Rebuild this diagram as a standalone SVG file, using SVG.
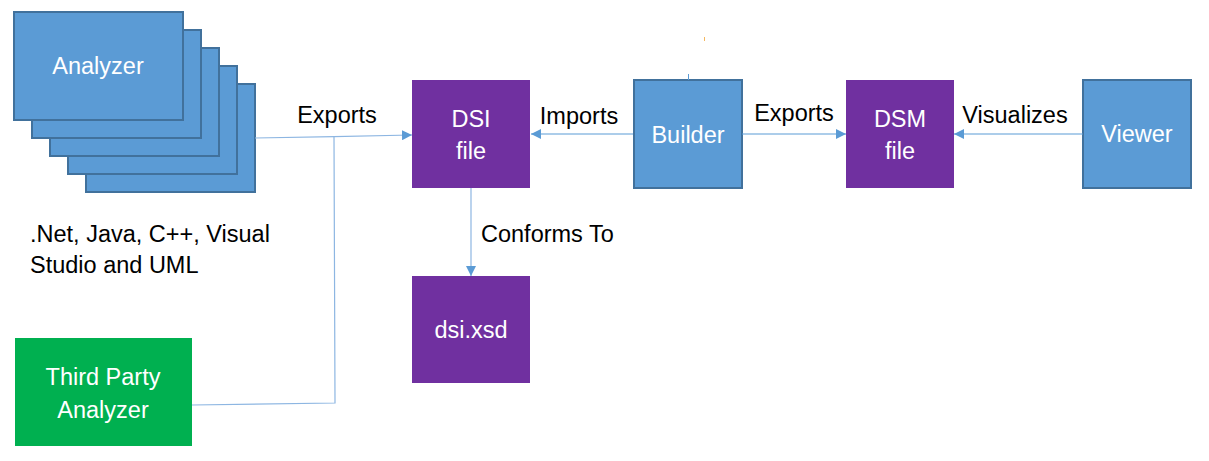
<svg xmlns="http://www.w3.org/2000/svg" width="1209" height="461" viewBox="0 0 1209 461">
<defs>
<style>
.blue{fill:#5B9BD5;stroke:#41719C;stroke-width:2}
.purple{fill:#7030A0}
.green{fill:#00B050}
.wt{font-family:"Liberation Sans",Arial,sans-serif;font-size:23.5px;fill:#FFFFFF;text-anchor:middle}
.bt{font-family:"Liberation Sans",Arial,sans-serif;font-size:23.5px;fill:#000000}
.conn{fill:none;stroke:#5B9BD5;stroke-width:1.2}
.light{fill:none;stroke:#8DB6E2;stroke-width:1.2}
</style>
<marker id="arrow" viewBox="0 0 10 10" refX="10" refY="5" markerWidth="10" markerHeight="10" markerUnits="userSpaceOnUse" orient="auto">
<path d="M0,0 L10,5 L0,10 Z" fill="#5B9BD5"/>
</marker>
</defs>
<rect width="1209" height="461" fill="#FFFFFF"/>

<g id="analyzer">
<rect class="blue" x="86" y="84" width="169" height="108"/>
<rect class="blue" x="68" y="66" width="169" height="108"/>
<rect class="blue" x="50" y="48" width="169" height="108"/>
<rect class="blue" x="32" y="30" width="169" height="108"/>
<rect class="blue" x="14" y="12" width="169" height="108"/>
<text class="wt" x="98" y="74">Analyzer</text>
</g>

<g id="languages">
<text class="bt" x="30" y="242">.Net, Java, C++, Visual</text>
<text class="bt" x="30" y="273">Studio and UML</text>
</g>

<g id="third-party">
<rect class="green" x="15" y="338" width="177" height="108"/>
<text class="wt" x="103" y="385">Third Party</text>
<text class="wt" x="103" y="418">Analyzer</text>
</g>

<g id="dsi-file">
<rect class="purple" x="412" y="80" width="118" height="108"/>
<text class="wt" x="471" y="127">DSI</text>
<text class="wt" x="471" y="159">file</text>
</g>

<g id="dsi-xsd">
<rect class="purple" x="412" y="276" width="118" height="107"/>
<text class="wt" x="471" y="338">dsi.xsd</text>
</g>

<g id="builder">
<rect class="blue" x="634" y="80" width="108" height="108"/>
<text class="wt" x="688" y="143">Builder</text>
</g>

<g id="dsm-file">
<rect class="purple" x="846" y="80" width="108" height="108"/>
<text class="wt" x="900" y="127">DSM</text>
<text class="wt" x="900" y="159">file</text>
</g>

<g id="viewer">
<rect class="blue" x="1083" y="80" width="108" height="108"/>
<text class="wt" x="1137" y="142">Viewer</text>
</g>

<g id="connectors">
<path class="light" d="M255,138 L334,136.7 L412,135" marker-end="url(#arrow)"/>
<path class="light" d="M334,137 L335,403 L192,405"/>
<path class="conn" d="M633,134 L531,134" marker-end="url(#arrow)"/>
<path class="conn" d="M742,134 L846,134" marker-end="url(#arrow)"/>
<path class="conn" d="M1083,134 L954,134" marker-end="url(#arrow)"/>
<path class="light" d="M471,188 L471,276" marker-end="url(#arrow)"/>
<line x1="688.5" y1="74" x2="688.5" y2="80" stroke="#5B9BD5" stroke-width="1"/>
<line x1="704.5" y1="37" x2="704.5" y2="41" stroke="#F4B860" stroke-width="1"/>
</g>

<g id="labels">
<text class="bt" x="337" y="123" text-anchor="middle">Exports</text>
<text class="bt" x="579" y="124" text-anchor="middle">Imports</text>
<text class="bt" x="794" y="121" text-anchor="middle">Exports</text>
<text class="bt" x="1015" y="123" text-anchor="middle">Visualizes</text>
<text class="bt" x="481" y="242">Conforms To</text>
</g>
</svg>
